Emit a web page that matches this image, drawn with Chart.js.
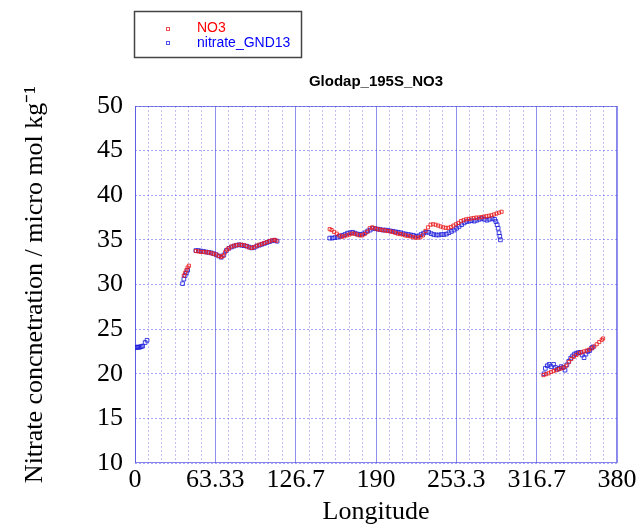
<!DOCTYPE html>
<html>
<head>
<meta charset="utf-8">
<script src="https://cdn.jsdelivr.net/npm/chart.js@4.4.0/dist/chart.umd.min.js"></script>
<style>
    html, body { margin: 0; padding: 0; background: #fff; }
    #wrap { width: 640px; height: 530px; position: relative; }
</style>
</head>
<body>
<div id="wrap"><canvas id="chart"></canvas></div>
<script>
'use strict';

// tick labels on the longitude axis (one every 6 minor grid steps)
var xTickLabels = ['0', '63.33', '126.7', '190', '253.3', '316.7', '380'];

// NO3 (red)
var no3Lon = [38.5, 39.5, 40.5, 41.5, 42.5,
    48, 50, 52, 54, 56, 58, 60, 62, 64, 66, 68, 69.5, 71, 72.5, 74, 76, 78, 80, 82, 84, 86, 88, 90, 92, 94, 96, 98, 100, 102, 104, 106, 108, 110, 111.5,
    153.5, 155, 157, 159, 161, 163, 165, 167, 169, 171, 173, 175, 177, 179, 181, 183, 185, 187, 189, 191, 193, 195, 197, 199, 201, 203, 205, 207, 209, 211, 213, 215, 217, 219, 221, 223, 225, 227, 229, 231, 233, 235, 237, 239, 241, 243, 245, 247, 249, 251, 253, 255, 257, 259, 261, 263, 265, 267, 269, 271, 273, 275, 277, 279, 281, 283, 285, 287, 289,
    322, 324, 326, 328, 330, 332, 334, 336, 338, 340, 342, 344, 346, 348, 350, 352, 354, 356, 358, 360, 362, 364, 366, 368, 369];
var no3Val = [31.0, 31.3, 31.6, 31.9, 32.1,
    33.75, 33.7, 33.65, 33.65, 33.6, 33.6, 33.5, 33.45, 33.35, 33.2, 33.1, 33.2, 33.6, 33.9, 34.05, 34.25, 34.35, 34.4, 34.45, 34.45, 34.4, 34.3, 34.15, 34.1, 34.2, 34.35, 34.45, 34.55, 34.65, 34.75, 34.85, 34.95, 35.0, 34.9,
    36.2, 36.1, 35.9, 35.7, 35.5, 35.35, 35.4, 35.5, 35.6, 35.7, 35.7, 35.6, 35.5, 35.5, 35.65, 35.9, 36.3, 36.4, 36.3, 36.2, 36.15, 36.1, 36.05, 36.0, 35.95, 35.9, 35.8, 35.7, 35.65, 35.6, 35.5, 35.45, 35.4, 35.3, 35.25, 35.25, 35.3, 35.5, 36.0, 36.4, 36.7, 36.75, 36.7, 36.6, 36.5, 36.4, 36.35, 36.35, 36.45, 36.6, 36.75, 36.9, 37.1, 37.2, 37.3, 37.35, 37.4, 37.45, 37.5, 37.5, 37.55, 37.6, 37.65, 37.7, 37.75, 37.85, 37.95, 38.05, 38.15,
    19.85, 19.95, 20.05, 20.2, 20.3, 20.4, 20.5, 20.6, 20.7, 20.9, 21.3, 21.65, 21.9, 22.1, 22.3, 22.4, 22.5, 22.6, 22.7, 22.85, 23.05, 23.3, 23.55, 23.8, 23.95];

// nitrate_GND13 (blue)
var gndLon = [0, 1, 2, 3, 4, 5, 6, 8, 9.5,
    37.5, 38.5, 39.5, 40.5, 41.5,
    48, 50, 52, 54, 56, 58, 60, 62, 64, 66, 68, 70, 72, 74, 76, 78, 80, 82, 84, 86, 88, 90, 92, 94, 96, 98, 100, 102, 104, 106, 108, 110, 112,
    153.5, 155.5, 157.5, 159.5, 161.5, 163.5, 165.5, 167.5, 169.5, 171.5, 173.5, 175.5, 177.5, 179.5, 181.5, 183.5, 185.5, 187.5, 189.5, 191.5, 193.5, 195.5, 197.5, 199.5, 201.5, 203.5, 205.5, 207.5, 209.5, 211.5, 213.5, 215.5, 217.5, 219.5, 221.5, 223.5, 225.5, 227.5, 229.5, 231.5, 233.5, 235.5, 237.5, 239.5, 241.5, 243.5, 245.5, 247.5, 249.5, 251.5, 253.5, 255.5, 257.5, 259.5, 261.5, 263.5, 265.5, 267.5, 269.5, 271.5, 273.5, 275.5, 277.5, 279.5, 281.5, 283.5, 284.5, 285.5, 286.3, 287, 287.6, 288.1,
    322.5, 323.5, 325, 326.5, 328, 330, 331.5, 333, 334.5, 336, 337.5, 339, 340.5, 342, 343.5, 345, 346.5, 348, 349.5, 351, 352.5, 354, 355.5, 357, 358.5, 360, 361];
var gndVal = [22.95, 22.95, 23.0, 22.95, 23.0, 23.05, 23.1, 23.5, 23.75,
    30.1, 30.6, 31.0, 31.3, 31.6,
    33.8, 33.8, 33.75, 33.7, 33.65, 33.6, 33.55, 33.45, 33.35, 33.2, 33.05, 33.3, 33.8, 34.05, 34.2, 34.3, 34.4, 34.45, 34.4, 34.35, 34.3, 34.2, 34.1, 34.15, 34.3, 34.4, 34.5, 34.6, 34.7, 34.8, 34.9, 34.95, 34.85,
    35.2, 35.2, 35.25, 35.3, 35.4, 35.5, 35.6, 35.75, 35.8, 35.85, 35.75, 35.65, 35.6, 35.65, 35.8, 36.0, 36.1, 36.3, 36.25, 36.2, 36.15, 36.1, 36.1, 36.05, 36.0, 35.95, 35.9, 35.85, 35.8, 35.7, 35.65, 35.6, 35.55, 35.5, 35.4, 35.45, 35.6, 35.75, 35.85, 35.85, 35.7, 35.6, 35.55, 35.55, 35.6, 35.6, 35.65, 35.8, 35.95, 36.1, 36.3, 36.5, 36.7, 36.9, 37.05, 37.1, 37.15, 37.1, 37.2, 37.3, 37.4, 37.3, 37.2, 37.3, 37.4, 37.3, 37.05, 36.7, 36.3, 35.8, 35.4, 35.0,
    20.0, 20.6, 20.9, 21.05, 20.8, 21.05, 20.7, 20.5, 20.6, 20.8, 20.7, 20.4, 21.0, 21.4, 21.75, 22.0, 22.2, 22.3, 22.35, 22.4, 22.1, 21.8, 22.2, 22.5, 22.6, 22.9, 23.0];

function toPoints(xs, ys) {
    var pts = [];
    for (var i = 0; i < xs.length; i++) {
        pts.push({ x: xs[i], y: ys[i] });
    }
    return pts;
}

var serif = '"Liberation Serif", "Times New Roman", serif';
var sans = '"Liberation Sans", Arial, sans-serif';

// frame round the plot, chart title and the boxed legend
var decoPlugin = {
    id: 'deco',
    beforeDatasetsDraw: function (chart) {
        var ctx = chart.ctx, a = chart.chartArea;
        ctx.save();
        ctx.strokeStyle = 'rgba(70, 70, 225, 0.65)';
        ctx.lineWidth = 1;
        ctx.strokeRect(a.left + 0.5, a.top + 0.5, a.right - a.left - 1, a.bottom - a.top - 1);
        ctx.restore();
    },
    afterDraw: function (chart) {
        var ctx = chart.ctx, a = chart.chartArea;
        ctx.save();
        ctx.fillStyle = '#000';
        ctx.font = 'bold 15px ' + sans;
        ctx.textAlign = 'center';
        ctx.textBaseline = 'middle';
        ctx.fillText('Glodap_195S_NO3', (a.left + a.right) / 2, 82);

        // legend
        ctx.strokeStyle = '#444';
        ctx.lineWidth = 1.5;
        ctx.strokeRect(134.5, 11.5, 167, 46);
        ctx.lineWidth = 1;
        ctx.strokeStyle = 'rgba(230, 40, 40, 0.8)';
        ctx.strokeRect(166.5, 27.5, 3, 3);
        ctx.strokeStyle = 'rgba(40, 40, 230, 0.8)';
        ctx.strokeRect(166.5, 41.5, 3, 3);
        ctx.font = '14px ' + sans;
        ctx.textAlign = 'left';
        ctx.fillStyle = '#ff0000';
        ctx.fillText('NO3', 197, 28.5);
        ctx.fillStyle = '#0000ff';
        ctx.fillText('nitrate_GND13', 197, 43);
        ctx.restore();
    }
};

var ctx = document.getElementById('chart');
var chart = new Chart(ctx, {
    type: 'scatter',
    data: {
        datasets: [{
            label: 'NO3',
            data: toPoints(no3Lon, no3Val),
            pointStyle: 'rect',
            pointRadius: 2.2,
            pointBorderWidth: 1,
            borderColor: 'rgba(235, 30, 30, 0.85)',
            backgroundColor: 'rgba(0, 0, 0, 0)',
            showLine: false
        }, {
            label: 'nitrate_GND13',
            data: toPoints(gndLon, gndVal),
            pointStyle: 'rect',
            pointRadius: 2.6,
            pointBorderWidth: 1,
            borderColor: 'rgba(30, 30, 220, 0.85)',
            backgroundColor: 'rgba(0, 0, 0, 0)',
            showLine: false
        }]
    },
    options: {
        responsive: true,
        maintainAspectRatio: false,
        animation: false,
        layout: { padding: { top: 106, right: 23, bottom: 0, left: 0 } },
        plugins: {
            legend: { display: false },
            title: { display: false },
            tooltip: { enabled: false }
        },
        scales: {
            x: {
                type: 'linear',
                min: 0,
                max: 380,
                afterBuildTicks: function (scale) {
                    var t = [];
                    for (var i = 0; i <= 36; i++) {
                        t.push({ value: i * 380 / 36 });
                    }
                    scale.ticks = t;
                },
                afterFit: function (scale) {
                    scale.height = 67;
                },
                ticks: {
                    autoSkip: false,
                    maxRotation: 0,
                    padding: 2,
                    color: '#000',
                    font: { family: serif, size: 26 },
                    callback: function (v, i) {
                        return i % 6 === 0 ? xTickLabels[i / 6] : '';
                    }
                },
                grid: {
                    drawTicks: false,
                    lineWidth: 1,
                    color: function (c) {
                        return c.index % 6 === 0 ? 'rgba(70, 70, 225, 0.6)' : 'rgba(100, 100, 235, 0.4)';
                    }
                },
                border: {
                    display: false,
                    dash: function (c) {
                        return c.index % 6 === 0 ? [] : [2, 2];
                    }
                },
                title: {
                    display: true,
                    text: 'Longitude',
                    color: '#000',
                    font: { family: serif, size: 26 },
                    padding: { top: 0, bottom: 2 }
                }
            },
            y: {
                min: 10,
                max: 50,
                afterFit: function (scale) {
                    scale.width = 135;
                },
                ticks: {
                    stepSize: 5,
                    padding: 12,
                    color: '#000',
                    font: { family: serif, size: 26 }
                },
                grid: {
                    drawTicks: false,
                    lineWidth: 1,
                    color: 'rgba(80, 80, 230, 0.5)'
                },
                border: { display: false, dash: [2, 2] },
                title: {
                    display: true,
                    text: 'Nitrate concnetration / micro mol kg\u207B\u00B9',
                    color: '#000',
                    font: { family: serif, size: 26 },
                    padding: { top: 20, bottom: 0 }
                }
            }
        }
    },
    plugins: [decoPlugin]
});
</script>
</body>
</html>
